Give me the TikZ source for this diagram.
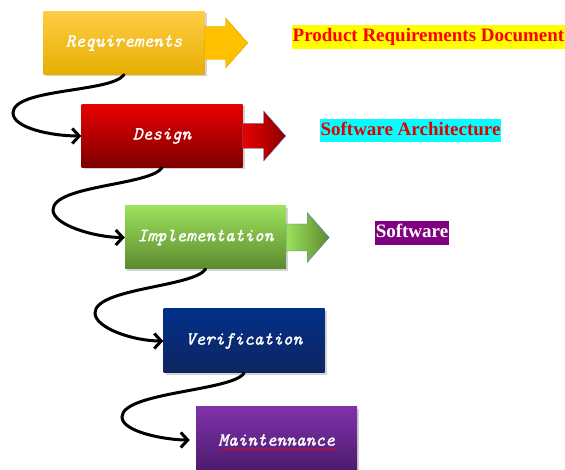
\documentclass[tikz,border=0pt]{standalone}
\usepackage{fontspec}
\newfontfamily\labelfont{Liberation Serif}
\newfontfamily\phasefont{lmmono10-italic.otf}[FakeBold=1.4]
\usetikzlibrary{arrows.meta,shadows,decorations.pathmorphing}

\definecolor{reqtop}{HTML}{FFCD45}
\definecolor{reqmid}{HTML}{FFC000}
\definecolor{reqbot}{HTML}{E6AE00}
\definecolor{reqline}{HTML}{D49F00}
\definecolor{destop}{HTML}{E80000}
\definecolor{desbot}{HTML}{7E0000}
\definecolor{imptop}{HTML}{9DE15C}
\definecolor{impbot}{HTML}{5C8A2E}
\definecolor{vertop}{HTML}{013089}
\definecolor{verbot}{HTML}{0F2560}
\definecolor{mnttop}{HTML}{7F32AA}
\definecolor{mntbot}{HTML}{4A1A6A}
\definecolor{arrline}{HTML}{4F7FC8}
\definecolor{hlyellow}{HTML}{FFFF00}
\definecolor{hlcyan}{HTML}{00FFFF}
\definecolor{hlpurple}{HTML}{800080}
\definecolor{hlred}{HTML}{FF0000}

% block arrow at the east side of a box: box, half shaft, style
\newcommand{\blockarrow}[3]{%
  \draw[#3] (#1.east) ++(0,#2) -- ++(21,0) -- ++(0,25-#2) -- ++(22,-25)
    -- ++(-22,-25) -- ++(0,25-#2) -- ++(-21,0) -- cycle;}

\begin{document}
\begin{tikzpicture}[x=1pt,y=1pt,>={Straight Barb[length=7pt,width=15pt]}]
	\tikzset{phase/.style={minimum width=161pt,minimum height=63pt,inner sep=0pt,
		font=\fontsize{18.5}{20}\selectfont\phasefont,text=white,
		drop shadow={shadow xshift=2pt,shadow yshift=-2pt,opacity=.35}},
		flow/.style={->,line width=3pt,line cap=round},
		output/.style={font=\fontsize{19}{22}\selectfont\labelfont\bfseries,
		inner xsep=.5pt,inner ysep=2.5pt,text height=14pt,text depth=4.5pt}}
	\useasboundingbox (0,0) rectangle (565,470);

	\node[phase,top color=reqtop,middle color=reqmid,bottom color=reqbot] (req) at (124,427) {Requirements};
	\node[phase,top color=destop,bottom color=desbot] (des) at (162,334) {Design};
	\node[phase,top color=imptop,bottom color=impbot] (imp) at (205.5,232.5) {Implementation};
	\node[phase,top color=vertop,bottom color=verbot,minimum height=64pt] (ver) at (244,129) {Verification};
	\node[phase,top color=mnttop,bottom color=mntbot,minimum height=66pt] (mnt) at (276.5,30) {Maintennance};

	\blockarrow{req}{16.5}{fill=reqmid,draw=reqline}
	\blockarrow{des}{12.5}{left color=destop,right color=desbot!90!red,draw=arrline}
	\blockarrow{imp}{13.5}{left color=imptop,right color=impbot,draw=arrline}

	\node[output,fill=hlyellow,text=hlred] (prd) at (428.5,433) {Product Requirements Document};
	\node[output,fill=hlcyan,text=hlred!90!black] (arch) at (410.5,339.5) {Software Architecture};
	\node[output,fill=hlpurple,text=white] (sw) at (412,237) {Software};

	\coordinate (bend1) at (13,357);
	\coordinate (bend2) at (53,260);
	\coordinate (bend3) at (95,157);
	\coordinate (bend4) at (122,53);

	\draw[flow] (req.south) .. controls +(-12,-18) and +(0,25) .. (bend1)
		.. controls +(0,-15) and +(-30,0) .. (des.west);
	\draw[flow] (des.south) .. controls +(-12,-18) and +(0,25) .. (bend2)
		.. controls +(0,-15) and +(-30,0) .. (imp.west);
	\draw[flow] (imp.south) .. controls +(-12,-18) and +(0,25) .. (bend3)
		.. controls +(0,-15) and +(-30,0) .. (ver.west);
	\draw[flow,shorten >=6pt] (ver.south) .. controls +(-12,-18) and +(0,25) .. (bend4)
		.. controls +(0,-15) and +(-30,0) .. (mnt.west);

	% spelling mark under the last box text
	\draw[hlred,decorate,decoration={snake,amplitude=.7pt,segment length=3pt}]
		([xshift=-56pt,yshift=-9pt]mnt.center) -- ++(116,0);
\end{tikzpicture}
\end{document}
